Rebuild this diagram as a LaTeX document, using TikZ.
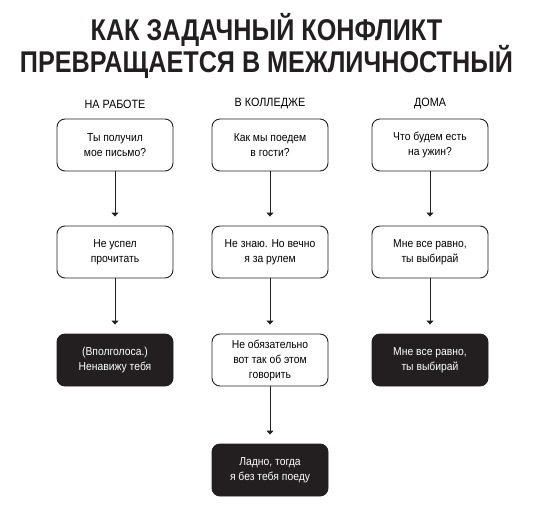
\documentclass[tikz,border=0pt]{standalone}
\usepackage{fontspec}
\setmainfont{Liberation Sans}
\newfontfamily\narrowfont[FakeStretch=0.9]{Liberation Sans}
\newfontfamily\titlefont[FakeStretch=0.84]{Liberation Sans}
\usetikzlibrary{arrows.meta}
\definecolor{boxdark}{HTML}{231F20}
\begin{document}
\begin{tikzpicture}[x=1pt,y=-1pt,
  box/.style={draw=boxdark,line width=0.9pt,rounded corners=8pt,minimum width=116pt,minimum height=52pt,align=center,font=\narrowfont\fontsize{11.5}{15}\selectfont,inner sep=2pt},
  darkbox/.style={box,fill=boxdark,text=white},
  head/.style={font=\narrowfont\fontsize{12}{14}\selectfont},
  titletext/.style={font=\titlefont\bfseries\fontsize{30}{32}\selectfont,text=boxdark},
  conn/.style={draw=boxdark,line width=0.9pt,-{Triangle[length=4pt,width=7pt]},shorten >=9pt}]
\useasboundingbox (0,0) rectangle (533,512);
\node[titletext] (t1) at (266.5,30) {КАК ЗАДАЧНЫЙ КОНФЛИКТ};
\node[titletext] (t2) at (266.5,62) {ПРЕВРАЩАЕТСЯ В МЕЖЛИЧНОСТНЫЙ};
\node[head] (h1) at (115,104) {НА РАБОТЕ};
\node[head] (h2) at (270,104) {В КОЛЛЕДЖЕ};
\node[head] (h3) at (430,104) {ДОМА};
\node[box] (a1) at (115,145) {Ты получил\\мое письмо?};
\node[box] (a2) at (115,252) {Не успел\\прочитать};
\node[darkbox] (a3) at (115,360) {(Вполголоса.)\\Ненавижу тебя};
\node[box] (b1) at (270,145) {Как мы поедем\\в гости?};
\node[box] (b2) at (270,252) {Не знаю. Но вечно\\я за рулем};
\node[box] (b3) at (270,360) {Не обязательно\\вот так об этом\\говорить};
\node[darkbox] (b4) at (270,470) {Ладно, тогда\\я без тебя поеду};
\node[box] (c1) at (430,145) {Что будем есть\\на ужин?};
\node[box] (c2) at (430,252) {Мне все равно,\\ты выбирай};
\node[darkbox] (c3) at (430,360) {Мне все равно,\\ты выбирай};
\draw[conn] (a1) -- (a2);
\draw[conn] (a2) -- (a3);
\draw[conn] (b1) -- (b2);
\draw[conn] (b2) -- (b3);
\draw[conn] (b3) -- (b4);
\draw[conn] (c1) -- (c2);
\draw[conn] (c2) -- (c3);
\end{tikzpicture}
\end{document}
